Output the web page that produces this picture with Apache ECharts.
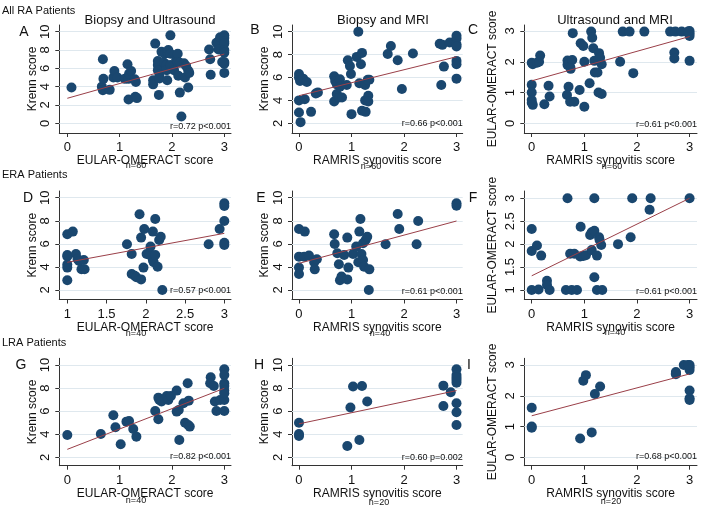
<!DOCTYPE html>
<html><head><meta charset="utf-8">
<script src="https://cdn.jsdelivr.net/npm/echarts@6/dist/echarts.min.js"></script>
<style>html,body{margin:0;padding:0;background:#fff}#c{width:721px;height:524px}</style>
</head><body><div id="c"></div>
<script>
// ---------- DATA ----------
const rowLabels = ['All RA Patients', 'ERA Patients', 'LRA Patients'];
const colTitles = ['Biopsy and Ultrasound', 'Biopsy and MRI', 'Ultrasound and MRI'];
const panelLetters = ['A','B','C','D','E','F','G','H','I'];
const xNames = ['EULAR-OMERACT score', 'RAMRIS synovitis score', 'RAMRIS synovitis score'];
const yNames = ['Krenn score', 'Krenn score', 'EULAR-OMERACT score'];
const nLabels = ['n=80','n=60','n=60','n=40','n=40','n=40','n=40','n=20','n=20'];
const statLabels = ['r=0.72 p<0.001','r=0.66 p<0.001','r=0.61 p<0.001',
                    'r=0.57 p<0.001','r=0.61 p<0.001','r=0.61 p<0.001',
                    'r=0.82 p<0.001','r=0.60 p=0.002','r=0.68 p<0.001'];
const ticks0to3 = [0, 1, 2, 3];
const ticks1to3 = [1, 1.5, 2, 2.5, 3];
const krennTicks0 = [0, 2, 4, 6, 8, 10];
const krennTicks2 = [2, 4, 6, 8, 10];

const ptsA = [[0.08,3.9],[0.68,7.0],[0.66,4.0],[0.68,3.6],[0.69,4.85],[0.81,3.65],[0.88,5.0],[0.9,5.7],[0.96,5.0],[1.1,4.85],[1.15,6.45],[1.17,4.85],[1.17,2.6],[1.18,5.4],[1.22,5.7],[1.29,4.8],[1.31,4.5],[1.3,2.9],[1.33,2.75],[1.64,4.7],[1.64,4.25],[1.68,8.7],[1.73,6.35],[1.73,6.8],[1.73,5.8],[1.75,3.1],[1.76,5.3],[1.76,4.9],[1.8,7.8],[1.86,7.6],[1.91,7.75],[1.97,9.6],[1.93,8.0],[1.97,7.6],[1.85,6.6],[1.89,6.35],[1.9,5.8],[1.91,4.7],[1.97,6.35],[2.04,5.8],[2.08,6.9],[2.11,7.6],[2.11,6.7],[2.12,5.2],[2.15,3.35],[2.18,0.75],[2.15,6.6],[2.23,6.55],[2.25,5.0],[2.27,6.25],[2.31,5.75],[2.33,5.5],[2.31,3.9],[2.71,8.05],[2.73,7.0],[2.74,5.3],[2.85,8.8],[2.89,8.05],[2.92,9.4],[3,9.6],[3,9.3],[3,8.9],[3,8.7],[3,8.0],[3,7.7],[3,6.7],[3,6.5],[3,5.5],[2.96,6.7]];
const ptsB = [[0,6.3],[0,6.0],[0.02,5.7],[0.08,5.9],[0.15,5.6],[0,4.0],[0.11,4.1],[0,2.95],[0.03,2.1],[0.23,3.0],[0.32,4.6],[0.36,4.7],[0.67,6.1],[0.69,5.7],[0.72,5.4],[0.67,3.9],[0.72,4.55],[0.77,4.25],[0.82,4.25],[0.78,5.85],[0.78,5.2],[0.91,5.35],[0.93,7.5],[0.97,7.0],[0.99,6.3],[1.0,2.8],[1.13,10.0],[1.1,7.8],[1.2,8.15],[1.18,7.15],[1.15,5.5],[1.2,3.1],[1.27,3.0],[1.26,5.35],[1.26,4.0],[1.32,4.4],[1.32,3.9],[1.34,5.8],[1.31,5.8],[1.69,8.05],[1.75,8.75],[1.88,7.5],[1.96,5.0],[2.17,8.1],[2.68,8.95],[2.73,8.85],[2.87,9.05],[2.76,6.95],[2.71,5.35],[3,9.65],[3,9.4],[3,8.9],[3,8.7],[3,7.45],[3,7.15],[3,5.9]];
const ptsC = [[0,1.97],[0.02,1.92],[0.1,1.97],[0.14,2.0],[0.16,2.2],[0,1.25],[0,1.0],[0,0.76],[0,0.67],[0.02,0.6],[0.24,0.62],[0.32,1.22],[0.34,0.87],[0.68,2.04],[0.68,1.9],[0.73,1.84],[0.77,2.06],[0.74,1.77],[0.7,1.19],[0.67,0.92],[0.73,0.7],[0.81,0.7],[0.78,2.93],[0.91,1.08],[0.93,2.6],[0.98,2.51],[1.0,2.0],[1.0,0.54],[1.1,1.3],[1.13,2.98],[1.15,2.78],[1.17,2.44],[1.19,2.03],[1.2,1.65],[1.25,1.65],[1.27,2.06],[1.28,2.28],[1.3,2.13],[1.33,1.92],[1.27,1.0],[1.33,0.95],[1.68,2.0],[1.73,2.98],[1.86,2.98],[1.93,1.63],[2.14,2.98],[2.63,2.98],[2.73,2.98],[2.85,2.98],[2.71,2.3],[2.71,2.11],[3,3.0],[3,2.92],[3,2.84],[3,2.03],[2.97,2.98]];
const ptsD = [[1.0,6.83],[1.07,7.06],[1.0,5.03],[1.0,4.9],[1.0,4.2],[1.0,3.94],[1.0,2.84],[1.11,5.12],[1.13,4.69],[1.15,4.51],[1.21,4.6],[1.18,3.8],[1.22,3.8],[1.76,5.96],[1.82,5.12],[1.82,3.39],[1.86,3.24],[1.88,3.1],[1.94,2.92],[1.92,8.56],[1.94,6.54],[1.97,3.94],[1.98,7.29],[2.01,5.12],[2.05,5.03],[2.06,5.76],[2.09,7.06],[2.12,8.16],[2.09,4.6],[2.1,4.4],[2.12,5.03],[2.15,4.02],[2.17,6.34],[2.19,6.62],[2.21,2.0],[2.8,5.96],[2.94,7.29],[3,7.98],[3,9.51],[3,9.28],[3,6.1],[3,5.9]];
const ptsE = [[0,7.29],[0.11,7.06],[0,4.89],[0.1,4.89],[0.19,4.98],[0,3.94],[0,3.39],[0.29,4.4],[0.34,4.66],[0.3,3.79],[0.67,6.83],[0.68,5.99],[0.73,5.18],[0.76,4.23],[0.78,2.84],[0.81,3.16],[0.86,5.03],[0.92,6.54],[0.92,2.92],[0.94,3.94],[1.03,5.12],[1.09,5.76],[1.15,7.06],[1.17,8.16],[1.13,4.4],[1.19,5.12],[1.22,4.6],[1.24,4.02],[1.22,6.05],[1.27,6.34],[1.3,6.62],[1.34,3.79],[1.33,2.0],[1.65,5.96],[1.88,8.59],[1.91,7.29],[2.27,7.98],[2.24,5.96],[3,9.51],[3,9.31]];
const ptsF = [[0,2.33],[0,1.85],[0.1,1.97],[0.18,1.75],[0,1.0],[0.13,1.01],[0.29,1.2],[0.29,1.11],[0.34,1.0],[0.68,3.0],[0.65,1.0],[0.76,1.0],[0.86,1.0],[0.73,1.79],[0.81,1.79],[0.92,1.73],[0.93,2.38],[0.98,1.74],[1.03,1.76],[1.11,2.2],[1.14,2.26],[1.19,2.29],[1.14,1.87],[1.19,3.0],[1.19,1.28],[1.24,1.75],[1.24,1.0],[1.34,1.0],[1.28,2.15],[1.29,2.09],[1.32,1.98],[1.64,2.0],[1.88,2.15],[1.91,3.0],[2.26,3.0],[2.24,2.75],[3,3.0]];
const ptsG = [[0,3.94],[0.64,4.02],[0.88,5.64],[0.92,4.6],[1.02,3.13],[1.13,5.09],[1.18,5.15],[1.26,4.46],[1.32,3.79],[1.68,6.02],[1.74,7.17],[1.76,6.97],[1.8,6.83],[1.74,5.29],[1.9,7.32],[1.93,6.97],[1.98,7.32],[2.09,7.78],[2.09,5.96],[2.13,6.1],[2.14,3.5],[2.22,6.68],[2.25,5.0],[2.31,4.8],[2.34,4.66],[2.3,8.42],[2.32,6.91],[2.82,6.83],[2.74,8.94],[2.73,8.42],[2.8,8.18],[2.85,6.02],[2.92,6.97],[3,9.63],[3,9.14],[3,8.42],[3,8.18],[3,7.78],[3,6.97],[3,6.02],[3,7.55]];
const ptsH = [[0,5.0],[0,4.02],[0,3.85],[0.92,2.98],[0.98,6.31],[1.03,8.13],[1.15,3.5],[1.2,8.18],[1.3,6.83],[2.75,8.21],[2.75,6.45],[2.89,7.64],[3,9.63],[3,9.14],[3,8.71],[3,8.47],[3,6.68],[3,5.9],[3,4.8],[3,8.9]];
const ptsI = [[0,1.61],[0,1.0],[0,0.96],[0.92,0.61],[0.98,2.49],[1.03,2.67],[1.14,0.81],[1.2,2.06],[1.3,2.3],[2.74,2.77],[2.74,2.7],[2.89,3.0],[3,3.0],[3,2.93],[3,2.84],[3,2.17],[3,1.92],[3,1.86],[2.97,3.0],[2.74,2.73]];

const fitA = [[0,2.73],[3,7.56]];
const fitB = [[0,4.41],[3,7.81]];
const fitC = [[0,1.38],[3,2.82]];
const fitD = [[1,4.4],[3,6.91]];
const fitE = [[0,4.31],[3,7.98]];
const fitF = [[0,1.31],[3,3.0]];
const fitG = [[0,2.69],[3,7.98]];
const fitH = [[0,4.9],[3,7.78]];
const fitI = [[0,1.35],[3,2.71]];

// ---------- LAYOUT ----------
const FONT = '"Liberation Sans", Arial, sans-serif';
const NAVY = '#1a476f', MAROON = '#9a3f48', GRIDC = '#dfe8ee', AXC = '#333';
const cols = [{l:59.3, r:231}, {l:292, r:462.7}, {l:524.3, r:697}];
const rows = [{t:25, b:133}, {t:191, b:299.5}, {t:358.3, b:465.7}];

const panels = [
  {pts:ptsA, fit:fitA, xr:[-0.153,3.128], yr:[-1.06,10.73], xt:ticks0to3, yt:krennTicks0},
  {pts:ptsB, fit:fitB, xr:[-0.133,3.118], yr:[1.153,10.585], xt:ticks0to3, yt:krennTicks2},
  {pts:ptsC, fit:fitC, xr:[-0.141,3.141], yr:[-0.315,3.195], xt:ticks0to3, yt:ticks0to3},
  {pts:ptsD, fit:fitD, xr:[0.898,3.085], yr:[1.177,10.58], xt:ticks1to3, yt:krennTicks2},
  {pts:ptsE, fit:fitE, xr:[-0.133,3.118], yr:[1.177,10.58], xt:ticks0to3, yt:krennTicks2},
  {pts:ptsF, fit:fitF, xr:[-0.141,3.141], yr:[0.793,3.159], xt:ticks0to3, yt:ticks1to3},
  {pts:ptsG, fit:fitG, xr:[-0.153,3.128], yr:[1.272,10.58], xt:ticks0to3, yt:krennTicks2},
  {pts:ptsH, fit:fitH, xr:[-0.133,3.118], yr:[1.272,10.58], xt:ticks0to3, yt:krennTicks2},
  {pts:ptsI, fit:fitI, xr:[-0.141,3.141], yr:[-0.273,3.218], xt:ticks0to3, yt:ticks0to3}
];

const grid = [], xAxis = [], yAxis = [], series = [], graphic = [];
panels.forEach((p, i) => {
  const r = Math.floor(i / 3), c = i % 3;
  const C = cols[c], R = rows[r];
  grid.push({left:C.l, top:R.t, width:C.r - C.l, height:R.b - R.t, containLabel:false});
  xAxis.push({
    type:'value', gridIndex:i, min:p.xr[0], max:p.xr[1],
    name:xNames[c], nameLocation:'middle', nameGap:18,
    nameTextStyle:{fontFamily:FONT, fontSize:12, color:'#111'},
    axisLine:{show:true, onZero:false, lineStyle:{color:AXC, width:1}},
    axisTick:{show:true, length:4, customValues:p.xt, lineStyle:{color:AXC}},
    axisLabel:{customValues:p.xt, margin:8, fontFamily:FONT, fontSize:13, color:'#111'},
    splitLine:{show:false}
  });
  yAxis.push({
    type:'value', gridIndex:i, min:p.yr[0], max:p.yr[1],
    name:yNames[c], nameLocation:'middle', nameGap: c === 2 ? 26 : 20, nameRotate:90,
    nameTextStyle:{fontFamily:FONT, fontSize:12, color:'#111'},
    axisLine:{show:true, onZero:false, lineStyle:{color:AXC, width:1}},
    axisTick:{show:true, length:4, customValues:p.yt, lineStyle:{color:AXC}},
    axisLabel:{customValues:p.yt, rotate:90, margin:7, fontFamily:FONT, fontSize:13, color:'#111'},
    splitLine:{show:false}
  });
  // horizontal grid lines at the y tick values (below the points)
  series.push({
    type:'line', xAxisIndex:i, yAxisIndex:i, data:[], z:1, silent:true,
    markLine:{silent:true, z:1, symbol:['none','none'], label:{show:false}, animation:false,
      emphasis:{disabled:true},
      lineStyle:{color:GRIDC, type:'solid', width:1},
      data:p.yt.map(v => ({yAxis:v}))}
  });
  series.push({
    type:'scatter', xAxisIndex:i, yAxisIndex:i, data:p.pts, symbolSize:10,
    itemStyle:{color:NAVY, opacity:1}, clip:false, z:3
  });
  series.push({
    type:'line', xAxisIndex:i, yAxisIndex:i, data:p.fit, showSymbol:false, symbol:'none',
    lineStyle:{color:MAROON, width:1}, z:4, silent:true
  });
});

function txt(text, x, y, size, align, va) {
  graphic.push({type:'text', x:x, y:y, z:10,
    style:{text:text, font:size + 'px ' + FONT, fill:'#111', align:align || 'left', verticalAlign:va || 'middle'}});
}
// row labels
txt(rowLabels[0], 2, 11, 11);
txt(rowLabels[1], 2, 175, 11);
txt(rowLabels[2], 2, 343, 11);
// column titles
txt(colTitles[0], 150, 20, 13, 'center');
txt(colTitles[1], 383, 20, 13, 'center');
txt(colTitles[2], 615, 20, 13, 'center');
// panel letters
const letterPos = [[24,32],[255,30],[473,30],[28,198],[261,198],[473,198],[21,365],[259,365],[469,365]];
panelLetters.forEach((L, i) => txt(L, letterPos[i][0], letterPos[i][1], 14, 'center'));
// n labels
const nPos = [[136,166],[371,167],[612,167],[136,334],[380,334],[615,333],[136,501],[379,503],[611,502]];
nLabels.forEach((t, i) => txt(t, nPos[i][0], nPos[i][1], 9, 'center'));
// r/p labels (right aligned at plot right edge)
const rY = [127,124,125,291,292,292,457,458,457];
statLabels.forEach((t, i) => txt(t, cols[i % 3].r, rY[i], 9, 'right'));

const chart = echarts.init(document.getElementById('c'), null, {renderer:'canvas'});
chart.setOption({animation:false, backgroundColor:'#fff', grid, xAxis, yAxis, series, graphic});
</script>
</body></html>
